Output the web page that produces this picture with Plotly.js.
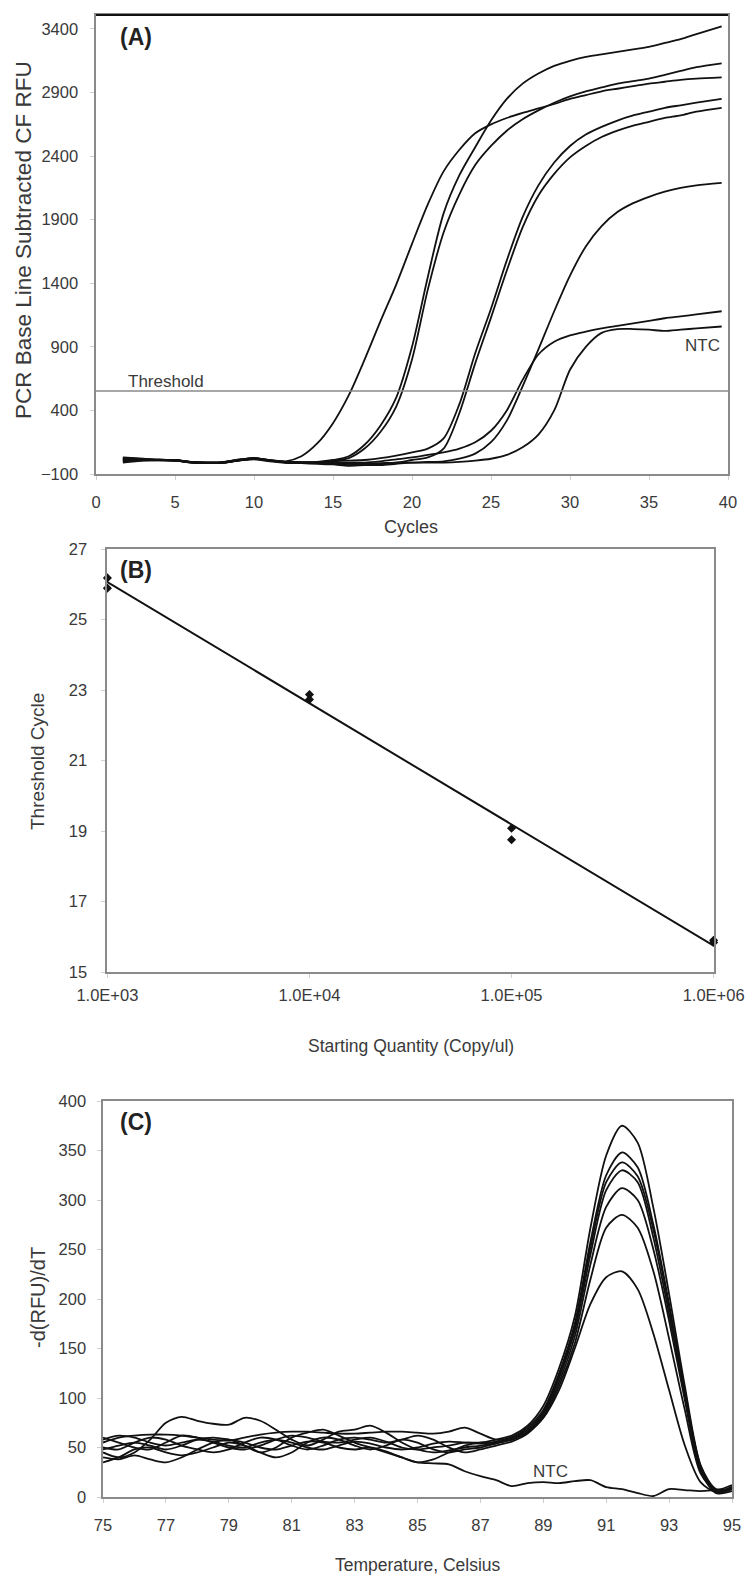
<!DOCTYPE html>
<html>
<head>
<meta charset="utf-8">
<script src="https://cdn.plot.ly/plotly-3.0.1.min.js"></script>
<style>html,body{margin:0;padding:0;background:#fff;}#chart{width:751px;height:1579px;}</style>
</head>
<body>
<div id="chart"></div>
<script>
// ---------- Panel A: amplification curves ----------
const cyclesA = [1.7, 3, 4, 5, 6, 7, 8, 9, 10, 11, 12, 13, 14, 15, 16, 17, 18, 19, 20, 21, 22, 23, 24, 25, 26, 27, 28, 29, 30, 31, 32, 33, 34, 35, 36, 37, 38, 39.6];
const rfuA1 = [20, 15, 12, 10, -5, -10, -8, 12, 22, 5, 0, 40, 140, 300, 520, 800, 1100, 1390, 1710, 2020, 2280, 2450, 2580, 2650, 2700, 2740, 2775, 2810, 2850, 2880, 2910, 2930, 2950, 2970, 2985, 3000, 3010, 3020];
const rfuB1 = [25, 18, 10, 8, -8, -12, -10, 8, 20, 8, -5, -8, -5, 10, 40, 130, 280, 500, 900, 1450, 1950, 2250, 2470, 2680, 2850, 2970, 3050, 3110, 3150, 3180, 3200, 3220, 3240, 3260, 3290, 3320, 3360, 3420];
const rfuB2 = [15, 12, 8, 5, -10, -14, -12, 5, 18, 5, -8, -10, -8, 5, 25, 100, 230, 430, 800, 1350, 1800, 2100, 2330, 2480, 2600, 2690, 2760, 2820, 2870, 2910, 2940, 2970, 2990, 3010, 3040, 3070, 3100, 3130];
const rfuC1 = [5, 10, 12, 8, -6, -10, -8, 10, 25, 8, -6, -8, -6, 0, 5, 10, 25, 45, 70, 100, 180, 450, 850, 1200, 1580, 1920, 2170, 2350, 2480, 2570, 2630, 2680, 2720, 2750, 2780, 2800, 2820, 2850];
const rfuC2 = [0, 8, 10, 6, -8, -12, -10, 6, 20, 4, -10, -12, -15, -20, -30, -20, -25, -10, 10, 30, 100, 380, 770, 1130, 1500, 1840, 2090, 2260, 2390, 2480, 2550, 2600, 2640, 2670, 2700, 2720, 2750, 2780];
const rfuD1 = [-10, 5, 8, 5, -10, -15, -12, 5, 15, 0, -12, -15, -20, -25, -35, -30, -30, -20, -10, -5, 0, 20, 60, 150, 320, 590, 880, 1180, 1460, 1690, 1850, 1960, 2030, 2080, 2120, 2150, 2170, 2190];
const rfuD2 = [10, 12, 10, 8, -6, -10, -8, 8, 22, 6, -8, -10, -12, -10, -10, -10, 0, 15, 30, 50, 70, 100, 150, 240, 400, 640, 840, 940, 990, 1020, 1045, 1065, 1085, 1105, 1125, 1140, 1155, 1180];
const rfuNTC = [30, 20, 12, 8, -5, -8, -6, 12, 25, 10, -4, -6, -10, -15, -20, -20, -15, -10, -10, -10, -10, -5, 5, 20, 50, 110, 210, 400, 720, 900, 1010, 1040, 1040, 1035, 1025, 1035, 1045, 1060];
const thresholdA = 553;
const yTicksA = [-100, 400, 900, 1400, 1900, 2400, 2900, 3400];
const xTicksA = [0, 5, 10, 15, 20, 25, 30, 35, 40];

// ---------- Panel B: standard curve ----------
const quantB = [1e3, 1e3, 1e4, 1e4, 1e5, 1e5, 1e6, 1e6];
const ctB = [26.18, 25.89, 22.87, 22.73, 19.08, 18.75, 15.90, 15.84];
const xTickValsB = [1e3, 1e4, 1e5, 1e6];
const xTickTextB = ['1.0E+03', '1.0E+04', '1.0E+05', '1.0E+06'];
const yTicksB = [15, 17, 19, 21, 23, 25, 27];

// ---------- Panel C: melt curves ----------
const tempsC = [75, 75.5, 76, 76.5, 77, 77.5, 78, 78.5, 79, 79.5, 80, 80.5, 81, 81.5, 82, 82.5, 83, 83.5, 84, 84.5, 85, 85.5, 86, 86.5, 87, 87.5, 88, 88.5, 89, 89.5, 90, 90.5, 91, 91.5, 92, 92.5, 93, 93.5, 94, 94.5, 95];
const meltC1 = [60,55,50,48,55,62,60,55,50,48, 52,58,62,60,56,55,58,60,56,50, 48,50,52,55,55,58,62,72,92,130, 182,272,345,375,358,292,205,112,32,5, 10];
const meltC2 = [45,40,45,58,75,81,77,74,73,80, 77,68,58,52,58,66,68,72,65,55, 48,45,47,50,52,55,60,70,88,125, 175,258,325,348,333,275,195,108,30,6, 8];
const meltC3 = [55,60,62,63,63,62,60,58,57,60, 63,65,66,66,65,64,64,65,66,66, 65,64,66,70,64,58,60,68,86,122, 172,252,318,338,324,270,192,106,32,8, 12];
const meltC4 = [40,38,42,38,35,40,48,55,58,52, 45,50,60,65,68,62,55,50,45,40, 35,38,45,52,55,55,58,66,84,120, 168,245,310,330,318,262,185,102,28,4, 6];
const meltC5 = [50,48,55,60,58,52,48,45,48,55, 60,58,52,48,52,58,60,58,55,58, 62,58,50,45,48,52,56,64,82,116, 162,235,293,312,300,250,178,98,26,4, 8];
const meltC6 = [35,40,48,50,45,42,45,50,55,52, 45,40,45,55,60,58,52,48,52,58, 55,48,45,48,50,54,58,65,80,112, 155,220,272,285,272,228,160,88,24,6, 10];
const meltC7 = [58,62,60,55,52,55,58,56,52,50, 55,58,55,50,48,52,56,54,50,48, 50,54,56,55,54,56,60,66,80,108, 150,195,222,228,210,165,108,52,15,5, 10];
const meltNTC = [48,52,55,52,48,52,58,60,58,55, 50,48,52,56,55,50,48,50,46,40, 35,34,33,26,21,17,11,14,15,14, 16,17,10,8,4,1,8,7,6,7, 8];
const xTicksC = [75, 77, 79, 81, 83, 85, 87, 89, 91, 93, 95];
const yTicksC = [0, 50, 100, 150, 200, 250, 300, 350, 400];

// ---------- layout geometry (pixels) ----------
const W = 751, H = 1579;
const fx = p => p / W;
const fy = p => 1 - p / H;
const FONT = 'Liberation Sans, Arial, Helvetica, sans-serif';
const LINE = {color: '#111', width: 1.8, shape: 'spline', smoothing: 0.8};

const traces = [];
[rfuA1, rfuB1, rfuB2, rfuC1, rfuC2, rfuD1, rfuD2, rfuNTC].forEach(ys => {
  traces.push({x: cyclesA, y: ys, type: 'scatter', mode: 'lines', line: LINE, xaxis: 'x', yaxis: 'y', showlegend: false, hoverinfo: 'skip'});
});

// regression line through standard points (log10 of quantity)
const lx = quantB.map(q => Math.log10(q));
const mx = lx.reduce((a, b) => a + b, 0) / lx.length;
const my = ctB.reduce((a, b) => a + b, 0) / ctB.length;
let sxy = 0, sxx = 0;
lx.forEach((v, i) => { sxy += (v - mx) * (ctB[i] - my); sxx += (v - mx) * (v - mx); });
const slope = sxy / sxx, icpt = my - slope * mx;
const fitX = [quantB[0], quantB[quantB.length - 1]];
const fitY = fitX.map(q => icpt + slope * Math.log10(q));
traces.push({x: fitX, y: fitY, type: 'scatter', mode: 'lines', line: {color: '#111', width: 2}, xaxis: 'x2', yaxis: 'y2', showlegend: false, hoverinfo: 'skip'});
traces.push({x: quantB, y: ctB, type: 'scatter', mode: 'markers', marker: {symbol: 'diamond', size: 7, color: '#111'}, cliponaxis: false, xaxis: 'x2', yaxis: 'y2', showlegend: false});

[meltC1, meltC2, meltC3, meltC4, meltC5, meltC6, meltC7, meltNTC].forEach(ys => {
  traces.push({x: tempsC, y: ys, type: 'scatter', mode: 'lines', line: LINE, xaxis: 'x3', yaxis: 'y3', showlegend: false, hoverinfo: 'skip'});
});

function axis(extra) {
  return Object.assign({
    showgrid: false, zeroline: false, showline: true, mirror: true,
    linecolor: '#8a8a8a', linewidth: 1.6,
    ticks: 'outside', ticklen: 4, tickcolor: '#d0d0d0', tickwidth: 1,
    tickfont: {family: FONT, size: 16.5, color: '#3a3a3a'},
    automargin: false, fixedrange: true
  }, extra);
}

const layout = {
  width: W, height: H,
  margin: {l: 0, r: 0, t: 0, b: 0},
  paper_bgcolor: '#fff', plot_bgcolor: '#fff',
  showlegend: false,
  xaxis: axis({domain: [fx(96), fx(728)], range: [0, 40], tickvals: xTicksA, ticklabelstandoff: 9, anchor: 'y'}),
  yaxis: axis({domain: [fy(474), fy(15)], range: [-100, 3510], tickvals: yTicksA, ticklabelstandoff: 9, anchor: 'x'}),
  xaxis2: axis({domain: [fx(107), fx(714)], type: 'log', range: [2.998, 6.002], tickvals: xTickValsB, ticktext: xTickTextB, ticklabelstandoff: 4, anchor: 'y2'}),
  yaxis2: axis({domain: [fy(972), fy(549)], range: [15, 27], tickvals: yTicksB, ticklabelstandoff: 11, anchor: 'x2'}),
  xaxis3: axis({domain: [fx(103), fx(732)], range: [75, 95], tickvals: xTicksC, ticklabelstandoff: 9, anchor: 'y3'}),
  yaxis3: axis({domain: [fy(1497), fy(1101)], range: [0, 400], tickvals: yTicksC, ticklabelstandoff: 8, anchor: 'x3'}),
  shapes: [
    {type: 'line', xref: 'x domain', yref: 'y', x0: 0, x1: 1, y0: thresholdA, y1: thresholdA, line: {color: '#8a8a8a', width: 1.6}},
    {type: 'line', xref: 'x domain', yref: 'y domain', x0: 0, x1: 1, y0: 1, y1: 1, line: {color: '#111', width: 2}}
  ],
  annotations: [
    {text: '<b>(A)</b>', xref: 'paper', yref: 'paper', x: fx(118), y: fy(37), xanchor: 'left', yanchor: 'middle', showarrow: false, font: {family: FONT, size: 23, color: '#222'}},
    {text: '<b>(B)</b>', xref: 'paper', yref: 'paper', x: fx(118), y: fy(570), xanchor: 'left', yanchor: 'middle', showarrow: false, font: {family: FONT, size: 23, color: '#222'}},
    {text: '<b>(C)</b>', xref: 'paper', yref: 'paper', x: fx(118), y: fy(1122), xanchor: 'left', yanchor: 'middle', showarrow: false, font: {family: FONT, size: 23, color: '#222'}},
    {text: 'Threshold', xref: 'paper', yref: 'paper', x: fx(166), y: fy(381), xanchor: 'center', yanchor: 'middle', showarrow: false, font: {family: FONT, size: 17, color: '#3a3a3a'}},
    {text: 'NTC', xref: 'paper', yref: 'paper', x: fx(702), y: fy(345), xanchor: 'center', yanchor: 'middle', showarrow: false, font: {family: FONT, size: 17, color: '#3a3a3a'}},
    {text: 'NTC', xref: 'paper', yref: 'paper', x: fx(550), y: fy(1471), xanchor: 'center', yanchor: 'middle', showarrow: false, font: {family: FONT, size: 17, color: '#3a3a3a'}},
    {text: 'PCR Base Line Subtracted CF RFU', xref: 'paper', yref: 'paper', x: fx(23), y: fy(240), xanchor: 'center', yanchor: 'middle', textangle: -90, showarrow: false, font: {family: FONT, size: 22.5, color: '#3a3a3a'}},
    {text: 'Cycles', xref: 'paper', yref: 'paper', x: fx(411), y: fy(527), xanchor: 'center', yanchor: 'middle', showarrow: false, font: {family: FONT, size: 18, color: '#3a3a3a'}},
    {text: 'Threshold Cycle', xref: 'paper', yref: 'paper', x: fx(37), y: fy(762), xanchor: 'center', yanchor: 'middle', textangle: -90, showarrow: false, font: {family: FONT, size: 19, color: '#3a3a3a'}},
    {text: 'Starting Quantity (Copy/ul)', xref: 'paper', yref: 'paper', x: fx(411), y: fy(1046), xanchor: 'center', yanchor: 'middle', showarrow: false, font: {family: FONT, size: 17.5, color: '#3a3a3a'}},
    {text: '-d(RFU)/dT', xref: 'paper', yref: 'paper', x: fx(38), y: fy(1298), xanchor: 'center', yanchor: 'middle', textangle: -90, showarrow: false, font: {family: FONT, size: 20, color: '#3a3a3a'}},
    {text: 'Temperature, Celsius', xref: 'paper', yref: 'paper', x: fx(418), y: fy(1565), xanchor: 'center', yanchor: 'middle', showarrow: false, font: {family: FONT, size: 17.5, color: '#3a3a3a'}}
  ]
};

Plotly.newPlot('chart', traces, layout, {displayModeBar: false, staticPlot: true});
</script>
</body>
</html>
